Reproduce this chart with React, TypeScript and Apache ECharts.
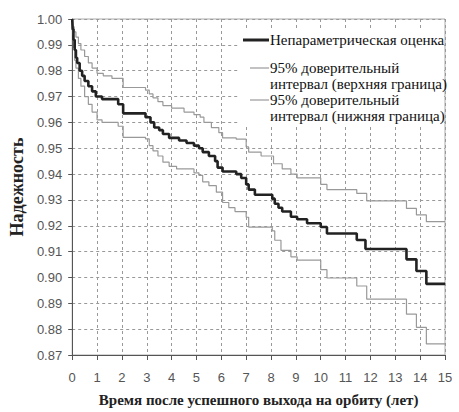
import React, { useEffect, useRef } from "react";
import * as echarts from "echarts";

const xTicks = { min: 0, max: 15, interval: 1 };
const yTicks = { min: 0.87, max: 1.0, interval: 0.01 };

const seriesNames = [
  "Непараметрическая оценка",
  "95% доверительный интервал (верхняя граница)",
  "95% доверительный интервал (нижняя граница)",
];

const legendLines = [
  ["Непараметрическая оценка"],
  ["95% доверительный", "интервал (верхняя граница)"],
  ["95% доверительный", "интервал (нижняя граница)"],
];

const xAxisTitle = "Время после успешного выхода на орбиту (лет)";
const yAxisTitle = "Надежность";

const estimate: [number, number][] = [
  [0, 1.0], [0.02, 0.996], [0.05, 0.992], [0.1, 0.988], [0.15, 0.985], [0.2, 0.983],
  [0.3, 0.98], [0.4, 0.978], [0.5, 0.976], [0.65, 0.974], [0.8, 0.972], [0.95, 0.97],
  [1.2, 0.969], [1.85, 0.967], [2.05, 0.9635], [2.95, 0.962], [3.15, 0.96], [3.3, 0.958],
  [3.5, 0.957], [3.65, 0.9555], [3.9, 0.954], [4.3, 0.953], [4.6, 0.952], [4.9, 0.951],
  [5.1, 0.95], [5.25, 0.9485], [5.5, 0.947], [5.75, 0.945], [5.85, 0.9425], [6.05, 0.941],
  [6.6, 0.94], [6.8, 0.9385], [7.0, 0.936], [7.1, 0.934], [7.35, 0.932], [8.05, 0.9305],
  [8.15, 0.9285], [8.3, 0.927], [8.45, 0.9255], [8.8, 0.9235], [9.05, 0.9225], [9.45, 0.921],
  [10.0, 0.9195], [10.25, 0.917], [11.45, 0.9145], [11.8, 0.911], [13.45, 0.907],
  [13.85, 0.9025], [14.25, 0.8975], [15, 0.8975],
];

const upper: [number, number][] = [
  [0, 1.0], [0.03, 0.997], [0.08, 0.995], [0.15, 0.993], [0.25, 0.9905], [0.35, 0.988],
  [0.5, 0.9855], [0.65, 0.983], [0.8, 0.981], [1.0, 0.979], [1.25, 0.978], [1.6, 0.977],
  [2.05, 0.9735], [2.95, 0.9725], [3.1, 0.971], [3.25, 0.9695], [3.45, 0.968], [3.65, 0.9665],
  [4.0, 0.9655], [4.5, 0.964], [4.9, 0.963], [5.15, 0.962], [5.3, 0.96], [5.6, 0.958],
  [5.9, 0.956], [6.05, 0.954], [6.6, 0.9535], [7.0, 0.9505], [7.1, 0.9485], [7.6, 0.947],
  [8.1, 0.944], [8.45, 0.942], [8.8, 0.94], [9.05, 0.9385], [10.0, 0.936], [10.25, 0.934],
  [11.45, 0.9325], [11.85, 0.9296], [13.45, 0.9267], [13.85, 0.9242], [14.25, 0.9216],
  [15, 0.9216],
];

const lower: [number, number][] = [
  [0, 1.0], [0.02, 0.994], [0.05, 0.989], [0.1, 0.984], [0.15, 0.981], [0.25, 0.977],
  [0.35, 0.974], [0.5, 0.97], [0.65, 0.967], [0.8, 0.964], [1.0, 0.961], [1.2, 0.96],
  [1.85, 0.9585], [2.05, 0.9542], [2.95, 0.9536], [3.1, 0.951], [3.25, 0.949], [3.45, 0.947],
  [3.65, 0.9446], [3.9, 0.943], [4.2, 0.942], [4.9, 0.9405], [5.1, 0.9395], [5.25, 0.937],
  [5.5, 0.9355], [5.8, 0.933], [6.05, 0.929], [6.3, 0.927], [6.55, 0.9255], [7.0, 0.9233],
  [7.1, 0.9195], [8.05, 0.918], [8.15, 0.9144], [8.4, 0.9105], [8.8, 0.908], [9.05, 0.9067],
  [10.0, 0.903], [10.25, 0.8998], [11.45, 0.8967], [11.85, 0.8916], [13.45, 0.8858],
  [13.85, 0.8807], [14.25, 0.8743], [15, 0.8743],
];

export default function App() {
  const ref = useRef<HTMLDivElement>(null);
  useEffect(() => {
    document.body.style.margin = "0";
    if (!ref.current) return;
    const chart = echarts.init(ref.current, null, { renderer: "svg" });
    const serif = "'Liberation Serif', 'DejaVu Serif', serif";
    const sans = "'Liberation Sans', Arial, sans-serif";
    const legendX = 243;
    const legendRows = [40, 68, 100];
    const legendColors = ["#222", "#999", "#999"];
    const legendWidths = [3, 1.2, 1.2];
    const graphics: any[] = [
      {
        type: "rect",
        shape: { x: 240, y: 28, width: 204, height: 99 },
        style: { fill: "#fff" },
        z: 100,
      },
    ];
    legendLines.forEach((lines, i) => {
      const y = legendRows[i];
      graphics.push({
        type: "line",
        shape: { x1: i === 0 ? legendX : 250, y1: y, x2: 269, y2: y },
        style: { stroke: legendColors[i], lineWidth: legendWidths[i] },
        z: 101,
      });
      lines.forEach((t, j) => {
        graphics.push({
          type: "text",
          x: 270,
          y: y + j * 16,
          style: {
            text: t,
            fontFamily: serif,
            fontSize: 15,
            fill: "#111",
            verticalAlign: "middle",
          },
          z: 101,
        });
      });
    });

    chart.setOption({
      animation: false,
      grid: {
        left: 68,
        right: 14,
        top: 19,
        bottom: 54,
        show: true,
        borderColor: "#aaa",
        borderWidth: 1,
        backgroundColor: "transparent",
      },
      xAxis: {
        type: "value",
        min: xTicks.min,
        max: xTicks.max,
        interval: xTicks.interval,
        name: xAxisTitle,
        nameLocation: "middle",
        nameGap: 37,
        nameTextStyle: { fontFamily: serif, fontWeight: "bold", fontSize: 15, color: "#222" },
        axisLine: { lineStyle: { color: "#555", width: 1 } },
        axisTick: { show: true, length: 5, lineStyle: { color: "#555" } },
        axisLabel: { fontFamily: sans, fontSize: 13, color: "#555", margin: 16 },
        splitLine: { show: true, lineStyle: { color: "#999", type: [3, 3], width: 1 } },
      },
      yAxis: {
        type: "value",
        min: yTicks.min,
        max: yTicks.max,
        interval: yTicks.interval,
        name: yAxisTitle,
        nameLocation: "middle",
        nameGap: 45,
        nameTextStyle: { fontFamily: serif, fontWeight: "bold", fontSize: 18, color: "#222" },
        axisLine: { show: true, lineStyle: { color: "#555", width: 1 } },
        axisTick: { show: true, length: 4, lineStyle: { color: "#555" } },
        axisLabel: {
          fontFamily: sans,
          fontSize: 13,
          color: "#555",
          margin: 10,
          formatter: (v: number) => v.toFixed(2),
        },
        splitLine: { show: true, lineStyle: { color: "#999", type: [3, 3], width: 1 } },
      },
      series: [
        {
          name: seriesNames[1],
          type: "line",
          step: "end",
          data: upper,
          showSymbol: false,
          lineStyle: { color: "#999", width: 1.2 },
          z: 2,
        },
        {
          name: seriesNames[2],
          type: "line",
          step: "end",
          data: lower,
          showSymbol: false,
          lineStyle: { color: "#999", width: 1.2 },
          z: 2,
        },
        {
          name: seriesNames[0],
          type: "line",
          step: "end",
          data: estimate,
          showSymbol: false,
          lineStyle: { color: "#222", width: 2.6 },
          z: 3,
        },
      ],
      graphic: graphics,
    });
    return () => chart.dispose();
  }, []);
  return <div ref={ref} style={{ width: 459, height: 412 }} />;
}
